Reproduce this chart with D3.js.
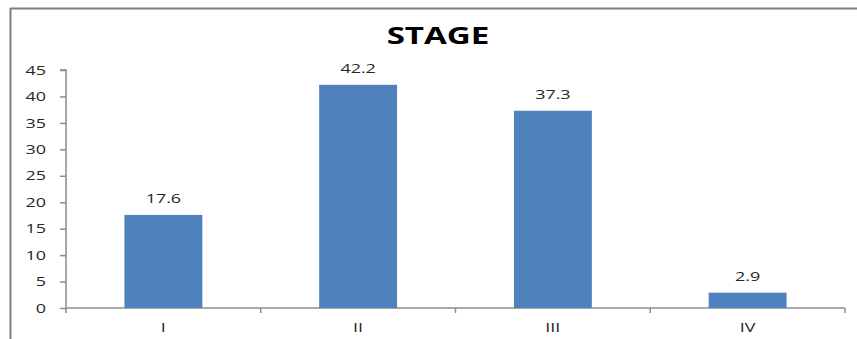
<!DOCTYPE html>
<html>
<head>
<meta charset="utf-8">
<script src="https://cdn.jsdelivr.net/npm/d3@7"></script>
<style>
  body { margin: 0; background: #fff; }
  text { font-family: "Open Sans", "DejaVu Sans", sans-serif; }
</style>
</head>
<body>
<svg id="chart"></svg>
<script>
const stages = ['I', 'II', 'III', 'IV']
const percents = [17.6, 42.2, 37.3, 2.9]
const yTicks = [0, 5, 10, 15, 20, 25, 30, 35, 40, 45]
const title = 'STAGE'

const width = 857
const height = 339
const margin = { top: 70, right: 12, bottom: 31, left: 66 }
const axisColor = '#8c8c8c'
const barColor = '#4f81bd'
const textColor = '#262626'
// the source image is stretched sideways, so the text is too
const stretch = 1.38

const svg = d3.select('#chart')
  .attr('width', width)
  .attr('height', height)

// chart frame (only top and left edges are visible in the crop)
svg.append('line')
  .attr('x1', 10).attr('x2', width).attr('y1', 8.5).attr('y2', 8.5)
  .attr('stroke', '#7f7f7f').attr('stroke-width', 2)
svg.append('line')
  .attr('x1', 10.5).attr('x2', 10.5).attr('y1', 8).attr('y2', height)
  .attr('stroke', '#7f7f7f').attr('stroke-width', 2)

const x = d3.scaleBand()
  .domain(stages)
  .range([margin.left, width - margin.right])
  .paddingInner(0.6)
  .paddingOuter(0.3)

const xEdges = d3.scaleBand()
  .domain(stages)
  .range([margin.left, width - margin.right])

const y = d3.scaleLinear()
  .domain([0, 45])
  .range([height - margin.bottom, margin.top])

svg.append('text')
  .attr('transform', `translate(438,44) scale(${stretch},1)`)
  .attr('text-anchor', 'middle')
  .attr('font-size', 24)
  .attr('font-weight', 'bold')
  .attr('fill', '#000')
  .text(title)

// y axis
const yAxis = svg.append('g')
  .attr('transform', `translate(${margin.left},0)`)
  .call(d3.axisLeft(y).tickValues(yTicks).tickSize(6))
yAxis.select('.domain').attr('stroke', axisColor).attr('stroke-width', 1.5)
  .attr('d', `M-6,${y(45)}H0V${y(0) + 5}`)
yAxis.selectAll('.tick line').attr('stroke', axisColor).attr('stroke-width', 1.5)
yAxis.selectAll('.tick text')
  .attr('x', 0)
  .attr('transform', `translate(-20,0) scale(${stretch},1)`)
  .attr('font-size', 13)
  .attr('fill', textColor)

// x axis baseline and boundary ticks
const x0 = y(0)
svg.append('line')
  .attr('x1', margin.left).attr('x2', width - margin.right)
  .attr('y1', x0).attr('y2', x0)
  .attr('stroke', axisColor).attr('stroke-width', 1.5)
svg.selectAll('.xtick')
  .data(stages)
  .join('line')
  .attr('class', 'xtick')
  .attr('x1', d => xEdges(d) + xEdges.bandwidth())
  .attr('x2', d => xEdges(d) + xEdges.bandwidth())
  .attr('y1', x0).attr('y2', x0 + 5)
  .attr('stroke', axisColor).attr('stroke-width', 1.5)

svg.selectAll('.xlabel')
  .data(stages)
  .join('text')
  .attr('class', 'xlabel')
  .attr('transform', d => `translate(${x(d) + x.bandwidth() / 2},${x0 + 24}) scale(${stretch},1)`)
  .attr('text-anchor', 'middle')
  .attr('font-size', 13)
  .attr('fill', textColor)
  .text(d => d)

const data = stages.map((s, i) => ({ stage: s, value: percents[i] }))

svg.selectAll('.bar')
  .data(data)
  .join('rect')
  .attr('class', 'bar')
  .attr('x', d => x(d.stage))
  .attr('y', d => y(d.value))
  .attr('width', x.bandwidth())
  .attr('height', d => y(0) - y(d.value))
  .attr('fill', barColor)

svg.selectAll('.value')
  .data(data)
  .join('text')
  .attr('class', 'value')
  .attr('transform', d => `translate(${x(d.stage) + x.bandwidth() / 2},${y(d.value) - 12}) scale(${stretch},1)`)
  .attr('text-anchor', 'middle')
  .attr('font-size', 13)
  .attr('fill', textColor)
  .text(d => d.value)
</script>
</body>
</html>
